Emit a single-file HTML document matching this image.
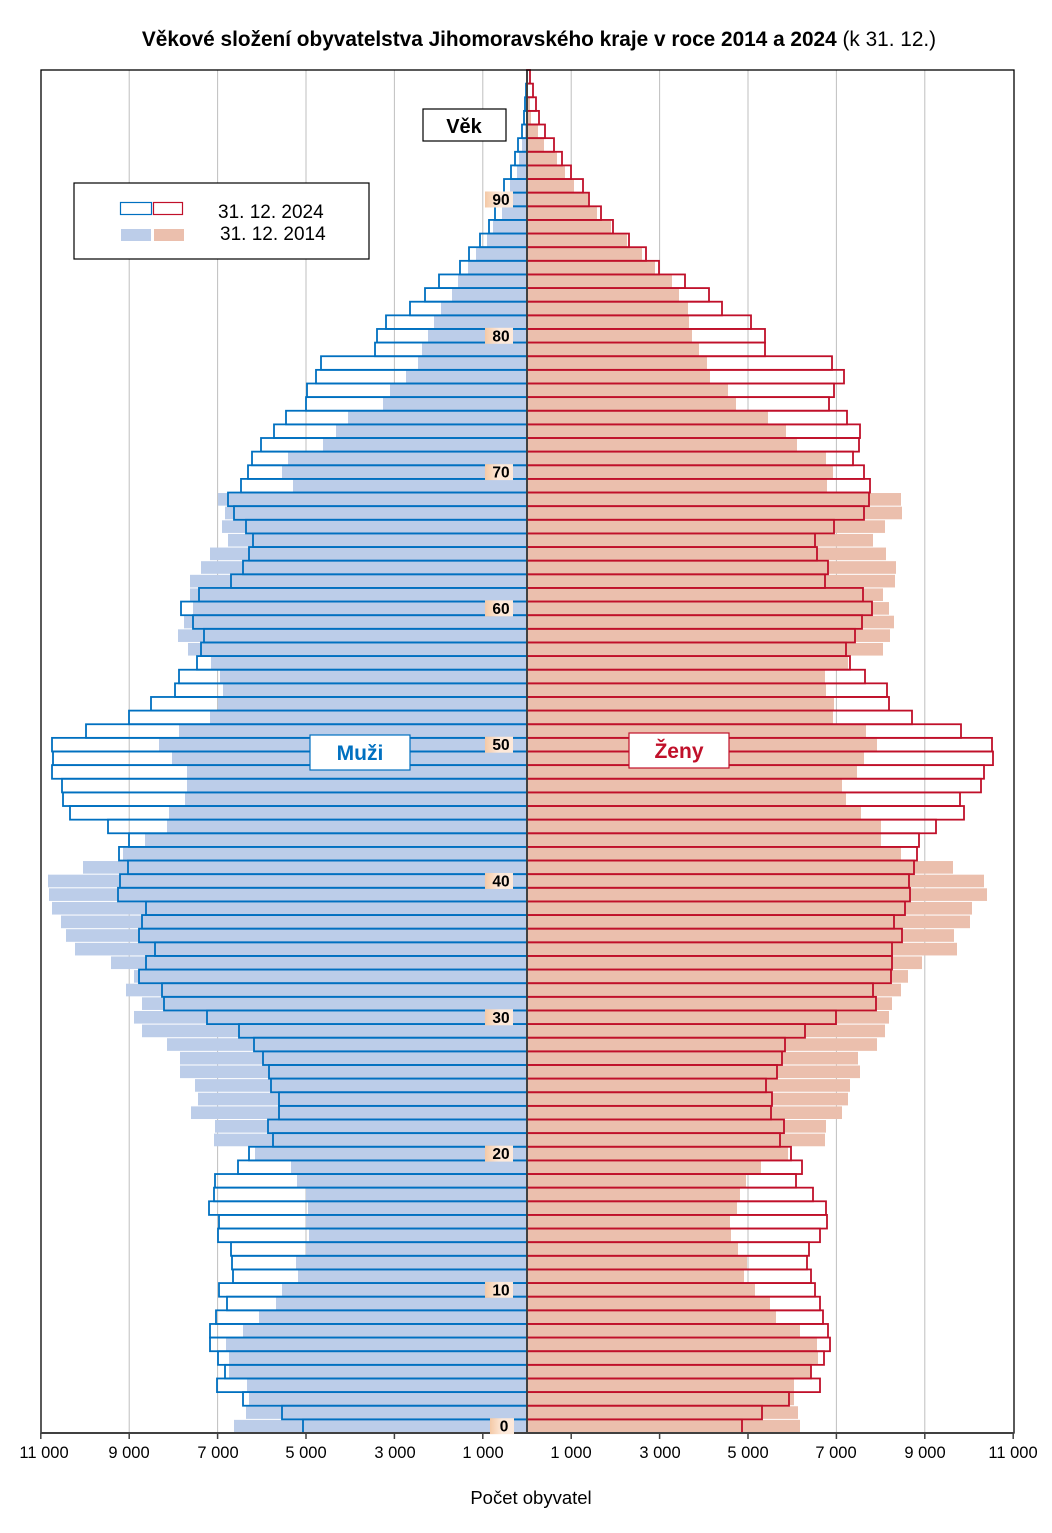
<!DOCTYPE html>
<html><head><meta charset="utf-8">
<style>
html,body{margin:0;padding:0;background:#fff;}
svg{display:block;}
text{font-family:"Liberation Sans",Arial,sans-serif;}
</style></head>
<body>
<svg id="s" width="1052" height="1533" viewBox="0 0 1052 1533" xmlns="http://www.w3.org/2000/svg">
<defs>
<linearGradient id="pg" x1="0" x2="1" y1="0" y2="0">
<stop offset="0" stop-color="#f4c9a6"/><stop offset="0.5" stop-color="#fde9da"/><stop offset="1" stop-color="#fde9da"/>
</linearGradient>
</defs>
<rect x="0" y="0" width="1052" height="1533" fill="#fff"/>
<g id="grid" stroke="#bfbfbf" stroke-width="1"></g>
<g id="fills"></g>
<g id="outl" fill="none" stroke-width="1.8"></g>
<line x1="527" y1="70" x2="527" y2="1433" stroke="#404040" stroke-width="2"/>
<rect x="41" y="70" width="973" height="1363" fill="none" stroke="#000" stroke-width="1.3"/>
<line x1="41" y1="1433" x2="1014" y2="1433" stroke="#404040" stroke-width="2"/>
<g id="ticks" stroke="#404040" stroke-width="1.5"></g>
<g id="agelab"></g>

<text x="539" y="46" text-anchor="middle" font-size="20.8" fill="#000"><tspan font-weight="bold">Věkové složení obyvatelstva Jihomoravského kraje v roce 2014 a 2024</tspan> (k 31. 12.)</text>

<rect x="423" y="109" width="83" height="32" fill="#fff" stroke="#000" stroke-width="1.2"/>
<text x="464" y="133" text-anchor="middle" font-size="20" font-weight="bold">Věk</text>

<rect x="74" y="183" width="295" height="76" fill="#fff" stroke="#000" stroke-width="1.2"/>
<rect x="120.5" y="202.5" width="31" height="12" fill="none" stroke="#0070c0" stroke-width="1.2"/>
<rect x="153.5" y="202.5" width="29" height="12" fill="none" stroke="#c0102a" stroke-width="1.2"/>
<rect x="121" y="229" width="30" height="12" fill="#bccde9"/>
<rect x="154" y="229" width="30" height="12" fill="#ebbfad"/>
<text x="218" y="218" font-size="19">31. 12. 2024</text>
<text x="220" y="240" font-size="19">31. 12. 2014</text>

<rect x="310" y="735" width="100" height="35" fill="#fff" stroke="#0070c0" stroke-width="1.2"/>
<text x="360" y="760" text-anchor="middle" font-size="21" font-weight="bold" fill="#0070c0">Muži</text>
<rect x="629" y="733" width="100" height="35" fill="#fff" stroke="#c0102a" stroke-width="1.2"/>
<text x="679" y="758" text-anchor="middle" font-size="21" font-weight="bold" fill="#c0102a">Ženy</text>

<g font-size="16.5" text-anchor="middle" fill="#000">
<text x="44" y="1458">11 000</text>
<text x="129" y="1458">9 000</text>
<text x="218" y="1458">7 000</text>
<text x="306" y="1458">5 000</text>
<text x="395" y="1458">3 000</text>
<text x="483" y="1458">1 000</text>
<text x="571" y="1458">1 000</text>
<text x="660" y="1458">3 000</text>
<text x="748" y="1458">5 000</text>
<text x="836" y="1458">7 000</text>
<text x="925" y="1458">9 000</text>
<text x="1013" y="1458">11 000</text>
</g>
<text x="531" y="1504" text-anchor="middle" font-size="18.5">Počet obyvatel</text>
</svg>
<script>
var M14=[234,246,249,247,229,229,226,243,259,276,282,298,296,306,309,306,308,306,297,291,255,214,215,191,198,195,180,180,167,142,134,142,126,134,111,75,66,61,52,49,48,83,123,145,167,169,185,187,187,172,159,179,210,218,223,220,211,188,178,184,193,190,190,201,210,228,222,225,218,293,282,288,323,336,348,383,390,406,418,422,428,434,441,452,458,468,476,487,493,502,511,510,517,519,522,525,527,527,527,527];
var M24=[303,282,243,217,225,218,210,210,216,227,219,233,232,231,218,219,209,214,215,238,249,273,268,279,279,271,269,263,254,239,207,164,162,139,146,155,139,142,146,118,120,128,119,129,108,70,63,62,52,53,52,86,129,151,175,179,197,201,204,193,181,199,231,243,249,253,246,234,228,241,248,252,261,274,286,306,307,316,321,375,377,386,410,425,439,460,469,480,489,495,504,504,511,515,518,522,524,525,526,527];
var F14=[800,798,794,794,811,818,817,800,776,770,755,744,747,738,731,730,737,740,746,761,788,825,826,842,848,850,860,858,877,885,889,892,901,908,922,957,954,970,972,987,984,953,901,881,881,861,846,842,857,864,877,866,833,834,826,825,848,883,890,894,889,883,895,896,886,873,885,902,901,827,833,826,797,786,768,736,728,710,707,699,692,689,688,679,672,655,642,627,611,597,588,574,565,557,544,538,531,530,528,527];
var F24=[742,762,789,820,811,824,830,828,823,820,815,811,807,809,820,827,826,813,796,802,791,780,784,771,772,766,777,782,785,805,836,876,873,891,892,892,902,894,905,910,909,914,917,919,936,964,960,981,984,993,992,961,912,889,887,865,850,846,855,862,872,863,825,828,817,815,834,864,869,870,864,853,859,860,847,829,834,844,832,765,765,751,722,709,685,659,646,629,613,601,589,583,571,562,554,545,539,536,533,530];
var NS="http://www.w3.org/2000/svg";
function el(p,t,a){var e=document.createElementNS(NS,t);for(var k in a)e.setAttribute(k,a[k]);p.appendChild(e);return e;}
var g=document.getElementById('grid'),f=document.getElementById('fills'),o=document.getElementById('outl'),tk=document.getElementById('ticks'),al=document.getElementById('agelab');
[1,3,5,7,9].forEach(function(k){var d=44.2*k;el(g,'line',{x1:527-d,x2:527-d,y1:70,y2:1433});el(g,'line',{x1:527+d,x2:527+d,y1:70,y2:1433});});
[1,3,5,7,9,11].forEach(function(k){var d=44.2*k;el(tk,'line',{x1:527-d,x2:527-d,y1:1433,y2:1439});el(tk,'line',{x1:527+d,x2:527+d,y1:1433,y2:1439});});
var H=13.63;
for(var a=0;a<100;a++){
 var ty=1433-H*(a+1);
 if(M14[a]<527) el(f,'rect',{x:M14[a],y:ty+0.5,width:527-M14[a],height:H-1,fill:'#bccde9'});
 if(F14[a]>527) el(f,'rect',{x:527,y:ty+0.5,width:F14[a]-527,height:H-1,fill:'#ebbfad'});
}
for(var a=0;a<100;a++){
 var ty=1433-H*(a+1);
 if(M24[a]<527) el(o,'rect',{x:M24[a],y:ty,width:527-M24[a],height:H,stroke:'#0070c0'});
 if(F24[a]>527) el(o,'rect',{x:527,y:ty,width:F24[a]-527,height:H,stroke:'#c0102a'});
}
for(var a=0;a<=90;a+=10){
 var cy=1433-H*(a+0.5);
 var w=a==0?24:28, x0=a==0?490:485;
 el(al,'rect',{x:x0,y:cy-8,width:w,height:16,fill:'url(#pg)'});
 var t=el(al,'text',{x:x0+w/2+2,y:cy+5.5,'text-anchor':'middle','font-size':'15.5','font-weight':'bold'});
 t.textContent=String(a);
}
</script>
</body></html>
